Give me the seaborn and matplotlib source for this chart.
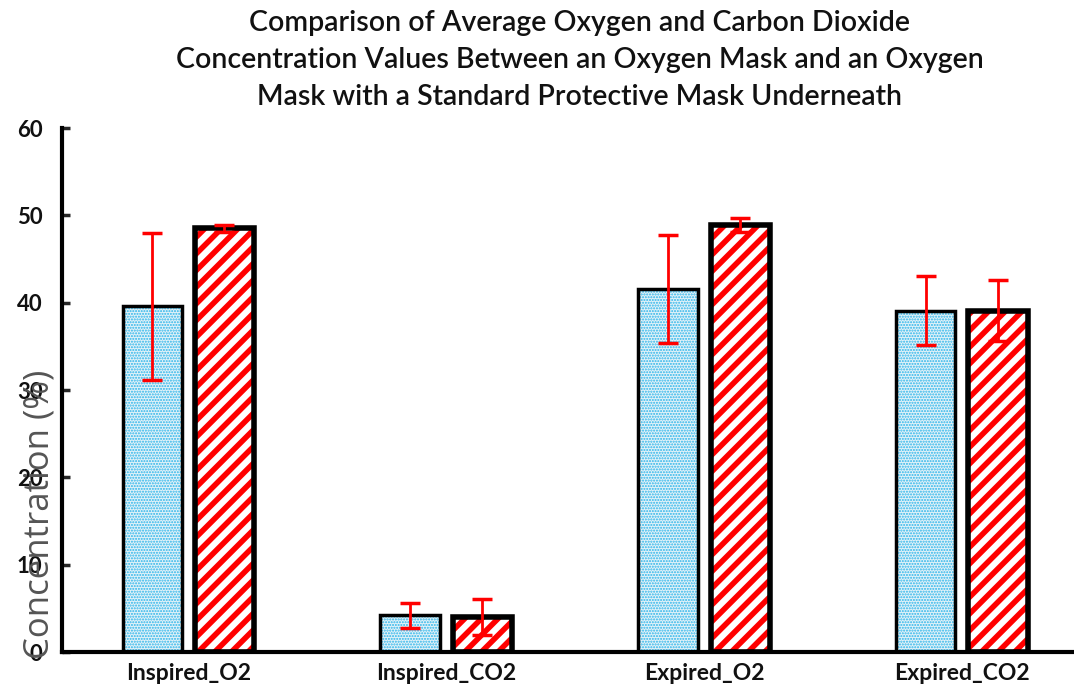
import matplotlib
matplotlib.use("Agg")
import matplotlib.pyplot as plt
import seaborn as sns
import pandas as pd

categories = ["Inspired_O2", "Inspired_CO2", "Expired_O2", "Expired_CO2"]
groups = ["Oxygen Mask", "Oxygen Mask + Protective Mask"]
oxygen_mask = [39.6, 4.2, 41.6, 39.1]
oxygen_mask_err = [8.4, 1.4, 6.2, 4.0]
combined_mask = [48.5, 4.0, 48.9, 39.1]
combined_mask_err = [0.4, 2.1, 0.8, 3.5]
title = ("Comparison of Average Oxygen and Carbon Dioxide\n"
         "Concentration Values Between an Oxygen Mask and an Oxygen\n"
         "Mask with a Standard Protective Mask Underneath")

df = pd.DataFrame({
    "category": categories * 2,
    "group": [groups[0]] * 4 + [groups[1]] * 4,
    "value": oxygen_mask + combined_mask,
})
errs = {groups[0]: oxygen_mask_err, groups[1]: combined_mask_err}

sns.set_theme(style="white")
plt.rcParams["font.family"] = ["Lato", "DejaVu Sans"]

fig = plt.figure(figsize=(10.74, 6.98), dpi=100)
ax = fig.add_axes([0.0577, 0.0659, 0.97, 0.7507])

# fill layer with hatch
sns.barplot(data=df, x="category", y="value", hue="group", order=categories,
            hue_order=groups, palette={groups[0]: "#dff4fb", groups[1]: "white"},
            errorbar=None, width=0.56, gap=0.18, legend=False, ax=ax,
            linewidth=0)
hatch_info = {0: ("......", "#2ab4ea", 1.0), 1: ("//", "#ff0000", 4.0)}
for i, cont in enumerate(ax.containers):
    h, c, lw = hatch_info[i]
    for p in cont:
        p.set_hatch(h)
        p.set_edgecolor(c)
        p.set_linewidth(0)
        try:
            p.set_hatch_linewidth(lw)
        except Exception:
            pass
n_fill = len(ax.containers)

# outline layer
sns.barplot(data=df, x="category", y="value", hue="group", order=categories,
            hue_order=groups, palette={groups[0]: "none", groups[1]: "none"},
            errorbar=None, width=0.56, gap=0.18, legend=False, ax=ax,
            fill=False)
outline_lw = {0: 2.5, 1: 4.0}
for i, cont in enumerate(ax.containers[n_fill:]):
    for p in cont:
        p.set_facecolor("none")
        p.set_edgecolor("black")
        p.set_linewidth(outline_lw[i])

# error bars
for i, cont in enumerate(ax.containers[:n_fill]):
    g = groups[i]
    xs = [p.get_x() + p.get_width() / 2 for p in cont]
    ys = [p.get_height() for p in cont]
    ax.errorbar(xs, ys, yerr=errs[g], fmt="none", ecolor="#ff0000",
                elinewidth=2, capsize=7, capthick=2.5, zorder=5)

ax.set_xlim(-0.49, 3.55)
ax.set_ylim(0, 60)
ax.set_yticks([0, 10, 20, 30, 40, 50, 60])
ax.tick_params(axis="y", direction="in", length=6, width=2.5, left=True,
               labelsize=16, pad=14)
ax.tick_params(axis="x", length=0, labelsize=16.5, pad=8)
for lab in ax.get_yticklabels() + ax.get_xticklabels():
    lab.set_fontweight("bold")
    lab.set_color("#111111")
ax.set_xlabel("")
ax.set_ylabel("Concentration (%)", fontsize=25, color="#555555",
              family=["Open Sans", "DejaVu Sans"])
ax.yaxis.set_label_coords(-0.005, 0.262)
for s in ["top", "right"]:
    ax.spines[s].set_visible(False)
for s in ["left", "bottom"]:
    ax.spines[s].set_linewidth(3)
    ax.spines[s].set_color("black")

fig.text(0.54, 0.986, title, ha="center", va="top", fontsize=20.5,
         linespacing=1.52, color="#111111", fontweight="semibold")

fig.savefig("out.png", dpi=100)
